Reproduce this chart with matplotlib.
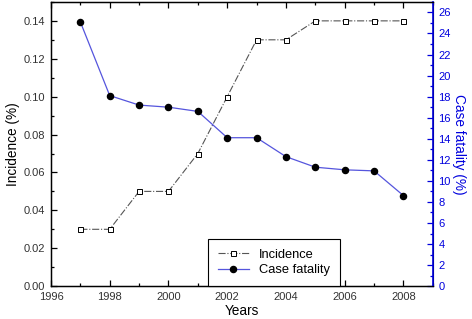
import matplotlib
matplotlib.use("Agg")
import matplotlib.pyplot as plt
from matplotlib.ticker import MultipleLocator, FormatStrFormatter

# data
years = [1997, 1998, 1999, 2000, 2001, 2002, 2003, 2004, 2005, 2006, 2007, 2008]
incidence = [0.03, 0.03, 0.05, 0.05, 0.07, 0.10, 0.13, 0.13, 0.14, 0.14, 0.14, 0.14]
case_fatality = [25.1, 18.1, 17.2, 17.0, 16.6, 14.1, 14.1, 12.3, 11.3, 11.05, 10.95, 8.6]

plt.rcParams['font.family'] = ['Liberation Sans', 'DejaVu Sans']

fig = plt.figure(figsize=(4.72, 3.19), dpi=100)
ax = fig.add_axes([0.108, 0.103, 0.809, 0.891])
ax2 = ax.twinx()

blue = '#0000dd'
tick_col = '#333333'

l1, = ax.plot(years, incidence, color='#555555', linestyle='-.', linewidth=0.8,
              marker='s', markersize=3.6, markerfacecolor='white',
              markeredgecolor='black', markeredgewidth=0.7, label='Incidence')
l2, = ax2.plot(years, case_fatality, color='#5555dd', linewidth=0.9,
               marker='o', markersize=4.4, markerfacecolor='black',
               markeredgecolor='black', label='Case fatality')

ax.set_xlim(1996, 2009)
ax.set_ylim(0, 0.15)
ax2.set_ylim(0, 27)

ax.xaxis.set_major_locator(MultipleLocator(2))
ax.xaxis.set_minor_locator(MultipleLocator(1))
ax.yaxis.set_major_locator(MultipleLocator(0.02))
ax.yaxis.set_minor_locator(MultipleLocator(0.01))
ax.yaxis.set_major_formatter(FormatStrFormatter('%.2f'))
ax2.yaxis.set_major_locator(MultipleLocator(2))
ax2.yaxis.set_minor_locator(MultipleLocator(1))

ax.tick_params(which='both', direction='in', top=True, right=False,
               labelsize=8, labelcolor=tick_col, width=0.9)
ax.tick_params(which='major', length=4, pad=4)
ax.tick_params(which='minor', length=2.5)
ax2.tick_params(which='both', direction='in', colors=blue, labelsize=8,
                width=0.9)
ax2.tick_params(which='major', length=4, pad=4)
ax2.tick_params(which='minor', length=2.5)
ax2.spines['right'].set_color(blue)
ax2.spines['right'].set_linewidth(1.2)
for s in ['left', 'bottom', 'top']:
    ax.spines[s].set_linewidth(1.0)

ax.set_xlabel('Years', fontsize=9.8, labelpad=2)
ax.set_ylabel('Incidence (%)', fontsize=9.8, labelpad=3)
ax2.set_ylabel('Case fatality (%)', fontsize=9.8, color=blue, rotation=-90,
               labelpad=11)

leg = ax.legend(handles=[l1, l2], loc='lower center',
                bbox_to_anchor=(0.584, 0.0), fontsize=9.3, frameon=True,
                fancybox=False, edgecolor='black', framealpha=1,
                handlelength=2.4, borderpad=0.75, labelspacing=0.3,
                borderaxespad=0.0)
leg.get_frame().set_linewidth(0.8)

fig.savefig('out.png', dpi=100)
